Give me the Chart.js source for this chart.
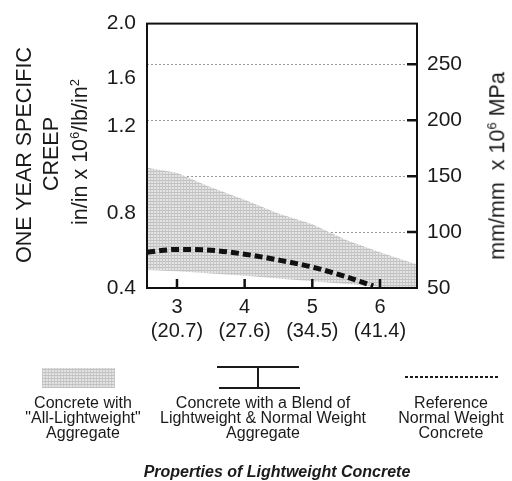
<!DOCTYPE html>
<html>
<head>
<meta charset="utf-8">
<script src="https://cdn.jsdelivr.net/npm/chart.js@4.4.1/dist/chart.umd.min.js"></script>
<style>
  body { margin: 0; background: #fff; }
  #wrap { position: relative; width: 512px; height: 481px; font-family: "Liberation Sans", Arial, sans-serif; color: #1a1a1a; }
  #chart { position: absolute; left: 0; top: 0; }
  .rot { position: absolute; white-space: nowrap; transform: translate(-50%, -50%) rotate(-90deg); font-size: 21.5px; line-height: 1; }
  .rot sup { font-size: 13px; vertical-align: 8px; }
  .leg { position: absolute; text-align: center; white-space: nowrap; font-size: 16px; line-height: 15px; transform: translateX(-50%); }
  .swatch { position: absolute; left: 42px; top: 368px; width: 73px; height: 20px;
    background-color: #e2e2e2;
    background-image: repeating-linear-gradient(0deg, #c2c2c2 0 1px, transparent 1px 3px),
                      repeating-linear-gradient(90deg, #cacaca 0 1px, transparent 1px 3px); }
  .ibar { position: absolute; background: #1a1a1a; }
  .dots { position: absolute; left: 405px; top: 376px; width: 94px; height: 2px;
    background: repeating-linear-gradient(90deg, #1a1a1a 0 3px, transparent 3px 5px); }
  #title { position: absolute; left: 277px; top: 463px; transform: translateX(-50%); white-space: nowrap;
    font-size: 16px; font-weight: bold; font-style: italic; }
</style>
</head>
<body>
<div id="wrap">
  <canvas id="chart" width="512" height="481"></canvas>

  <div class="rot" style="left:25px; top:155px;">ONE YEAR SPECIFIC</div>
  <div class="rot" style="left:52px; top:154px;">CREEP</div>
  <div class="rot" style="left:80px; top:152px;">in/in x 10<sup>6</sup>/lb/in<sup>2</sup></div>
  <div class="rot" style="left:497px; top:166px;">mm/mm&nbsp; x 10<sup>6</sup> MPa</div>

  <div class="swatch"></div>
  <div class="ibar" style="left:217px; top:366px; width:82px; height:2px;"></div>
  <div class="ibar" style="left:219px; top:387px; width:81px; height:2px;"></div>
  <div class="ibar" style="left:257px; top:367px; width:1.5px; height:21px;"></div>
  <div class="dots"></div>

  <div class="leg" style="left:83px; top:395px;">Concrete with<br>"All-Lightweight"<br>Aggregate</div>
  <div class="leg" style="left:263px; top:395px;">Concrete with a Blend of<br>Lightweight &amp; Normal Weight<br>Aggregate</div>
  <div class="leg" style="left:451px; top:395px;">Reference<br>Normal Weight<br>Concrete</div>

  <div id="title">Properties of Lightweight Concrete</div>
</div>

<script>
// compressive strength, ksi
const strengthX = [2.56, 3.0, 3.5, 4.0, 4.5, 5.0, 5.5, 6.0, 6.55];
// all-lightweight band, read on the right (mm/mm x 10^6 MPa) axis
const allLightTop = [157.6, 153, 140, 129, 116.7, 107, 93, 82, 71];
const allLightBottom = [66, 65, 63, 61, 58.5, 56, 53.5, 51, 50];

const refX = [2.56, 3.0, 3.5, 4.0, 4.5, 5.0, 5.5, 5.9];
const refCreep = [82, 84.5, 83.8, 80.2, 75, 68.7, 60, 51.8];

const xTicks = [3, 4, 5, 6];
const xTickMpa = ['(20.7)', '(27.6)', '(34.5)', '(41.4)'];
const rightTicks = [50, 100, 150, 200, 250];
// left axis labels sit where the figure prints them (measured on the right scale)
const leftTickPos = [50, 116.7, 194.9, 237.6, 286.4];
const leftTickLabels = ['0.4', '0.8', '1.2', '1.6', '2.0'];

const FONT = "'Liberation Sans', Arial, sans-serif";

function stipple(ctx) {
  const c = document.createElement('canvas');
  c.width = 3; c.height = 3;
  const g = c.getContext('2d');
  g.fillStyle = '#e4e4e4'; g.fillRect(0, 0, 3, 3);
  g.fillStyle = '#bfbfbf'; g.fillRect(0, 0, 3, 1);
  g.fillStyle = '#c8c8c8'; g.fillRect(0, 0, 1, 3);
  return ctx.createPattern(c, 'repeat');
}

const framePlugin = {
  id: 'frame',
  afterDatasetsDraw(chart) {
    const { ctx, chartArea: a, scales } = chart;
    ctx.save();
    ctx.strokeStyle = '#111';
    ctx.lineWidth = 2;
    ctx.strokeRect(a.left, a.top, a.right - a.left, a.bottom - a.top);
    ctx.lineWidth = 2.5;
    ctx.beginPath();
    scales.y.ticks.forEach(t => {
      if (t.value <= 50) return;
      const y = scales.y.getPixelForValue(t.value);
      ctx.moveTo(a.right - 10, y); ctx.lineTo(a.right, y);
    });
    scales.x.ticks.forEach(t => {
      const x = scales.x.getPixelForValue(t.value);
      ctx.moveTo(x, a.bottom - 9); ctx.lineTo(x, a.bottom);
    });
    ctx.stroke();
    ctx.restore();
  }
};

const canvas = document.getElementById('chart');
const pattern = stipple(canvas.getContext('2d'));

new Chart(canvas, {
  type: 'line',
  data: {
    datasets: [
      {
        label: 'Reference Normal Weight Concrete',
        data: refX.map((x, i) => ({ x, y: refCreep[i] })),
        borderColor: '#111',
        borderWidth: 5,
        borderDash: [8, 4],
        borderCapStyle: 'butt',
        cubicInterpolationMode: 'monotone',
        pointRadius: 0,
        fill: false,
        order: 0
      },
      {
        label: 'Concrete with "All-Lightweight" Aggregate',
        data: strengthX.map((x, i) => ({ x, y: allLightTop[i] })),
        borderWidth: 0,
        pointRadius: 0,
        backgroundColor: pattern,
        fill: '+1',
        order: 1
      },
      {
        label: 'band bottom',
        data: strengthX.map((x, i) => ({ x, y: allLightBottom[i] })),
        borderWidth: 0,
        pointRadius: 0,
        fill: false,
        order: 2
      }
    ]
  },
  options: {
    responsive: false,
    animation: false,
    layout: { padding: { top: 22 } },
    plugins: { legend: { display: false }, tooltip: { enabled: false } },
    scales: {
      x: {
        type: 'linear',
        min: 2.557, max: 6.547,
        afterBuildTicks: s => { s.ticks = xTicks.map(v => ({ value: v })); },
        afterFit: s => { s.height = 193; },
        ticks: {
          autoSkip: false, maxRotation: 0, padding: 7, color: '#1a1a1a',
          font: { family: FONT, size: 20, lineHeight: 1.2 },
          callback: v => [String(v), xTickMpa[xTicks.indexOf(v)]]
        },
        grid: { display: false, drawTicks: false },
        border: { display: false }
      },
      y: {
        position: 'right',
        min: 50, max: 286.4,
        afterBuildTicks: s => { s.ticks = rightTicks.map(v => ({ value: v })); },
        afterFit: s => { s.width = 95; },
        ticks: { padding: 10, color: '#1a1a1a', font: { family: FONT, size: 21 } },
        grid: {
          drawTicks: false,
          lineWidth: 1,
          color: c => (c.tick && c.tick.value > 50) ? '#9a9a9a' : 'rgba(0,0,0,0)'
        },
        border: { display: false, dash: [2, 2] }
      },
      yL: {
        position: 'left',
        min: 50, max: 286.4,
        afterBuildTicks: s => { s.ticks = leftTickPos.map(v => ({ value: v })); },
        afterFit: s => { s.width = 147; },
        ticks: {
          padding: 11, color: '#1a1a1a', font: { family: FONT, size: 21 },
          callback: v => leftTickLabels[leftTickPos.indexOf(v)]
        },
        grid: { display: false, drawTicks: false },
        border: { display: false }
      }
    }
  },
  plugins: [framePlugin]
});
</script>
</body>
</html>
